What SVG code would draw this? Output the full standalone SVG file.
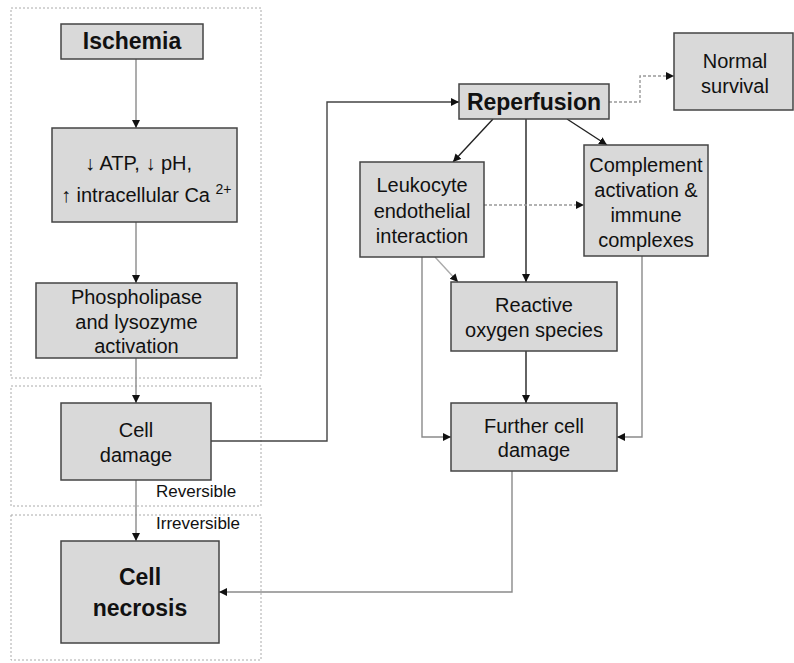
<svg xmlns="http://www.w3.org/2000/svg" width="794" height="663" viewBox="0 0 794 663">
<defs>
<marker id="ah" markerUnits="userSpaceOnUse" markerWidth="9" markerHeight="9" refX="8" refY="4" orient="auto">
<path d="M0,0 L8,4 L0,8 z" fill="#111"/>
</marker>
<style>
.zone{fill:none;stroke:#aaa;stroke-width:1;stroke-dasharray:2 2}
.box rect{fill:#d9d9d9;stroke:#444;stroke-width:1.5}
text{font-family:"Liberation Sans",Arial,sans-serif;fill:#111}
.t{font-size:20px;text-anchor:middle}
.b{font-size:23px;font-weight:bold;text-anchor:middle}
.lbl{font-size:17px}
.c{fill:none;stroke-width:1.4;marker-end:url(#ah)}
.g{stroke:#8a8a8a}
.k{stroke:#222}
.d{stroke:#999;stroke-dasharray:3 2}
</style>
</defs>
<rect class="zone" x="11" y="8" width="250" height="370"/>
<rect class="zone" x="11" y="386" width="250" height="120"/>
<rect class="zone" x="11" y="515" width="250" height="145"/>
<text class="lbl" x="156" y="497">Reversible</text>
<text class="lbl" x="156" y="529">Irreversible</text>
<g id="connectors">
<path class="c g" d="M136,59 V128"/>
<path class="c g" d="M136,222 V283"/>
<path class="c g" d="M136,358 V403"/>
<path class="c g" d="M136,480 V541"/>
<path class="c" stroke="#444" d="M211,441 H327 V102 H459"/>
<path class="c d" d="M609,102 H640 V76 H674"/>
<path class="c k" d="M493,119 L453,162"/>
<path class="c k" d="M567,119 L607,145"/>
<path class="c k" d="M526,119 V282"/>
<path class="c d" d="M484,205 H584"/>
<path class="c" stroke="#aaa" stroke-width="1" d="M435,257 L458,282"/>
<path class="c g" d="M422,257 V437 H451"/>
<path class="c g" d="M642,256 V437 H617"/>
<path class="c k" d="M526,351 V403"/>
<path class="c g" d="M512,471 V592 H219"/>
</g>
<g id="ischemia" class="box"><rect x="61" y="24" width="142" height="35"/><text class="b" x="132" y="49">Ischemia</text></g>
<g id="atp" class="box"><rect x="52" y="128" width="185" height="94"/>
<text class="t" x="85" y="170" text-anchor="start" style="text-anchor:start">↓ ATP, ↓ pH,</text>
<text class="t" x="61" y="202" style="text-anchor:start">↑ intracellular Ca <tspan font-size="14" dy="-8">2+</tspan></text></g>
<g id="phospholipase" class="box"><rect x="36" y="283" width="201" height="75"/>
<text class="t" x="136.5" y="304">Phospholipase</text><text class="t" x="136.5" y="329">and lysozyme</text><text class="t" x="136.5" y="353">activation</text></g>
<g id="cell-damage" class="box"><rect x="61" y="403" width="150" height="77"/>
<text class="t" x="136" y="437">Cell</text><text class="t" x="136" y="462">damage</text></g>
<g id="cell-necrosis" class="box"><rect x="61" y="541" width="158" height="102"/>
<text class="b" x="140" y="585">Cell</text><text class="b" x="140" y="616">necrosis</text></g>
<g id="reperfusion" class="box"><rect x="459" y="84" width="150" height="35"/><text class="b" x="534" y="110">Reperfusion</text></g>
<g id="normal-survival" class="box"><rect x="674" y="33" width="119" height="77"/>
<text class="t" x="735" y="68">Normal</text><text class="t" x="735" y="93">survival</text></g>
<g id="leukocyte" class="box"><rect x="360" y="162" width="124" height="95"/>
<text class="t" x="422" y="192">Leukocyte</text><text class="t" x="422" y="218">endothelial</text><text class="t" x="422" y="243">interaction</text></g>
<g id="complement" class="box"><rect x="584" y="145" width="124" height="111"/>
<text class="t" x="646" y="172">Complement</text><text class="t" x="646" y="197">activation &amp;</text><text class="t" x="646" y="222">immune</text><text class="t" x="646" y="247">complexes</text></g>
<g id="ros" class="box"><rect x="451" y="282" width="166" height="69"/>
<text class="t" x="534" y="312">Reactive</text><text class="t" x="534" y="337">oxygen species</text></g>
<g id="further-damage" class="box"><rect x="451" y="403" width="166" height="68"/>
<text class="t" x="534" y="433">Further cell</text><text class="t" x="534" y="457">damage</text></g>
</svg>
